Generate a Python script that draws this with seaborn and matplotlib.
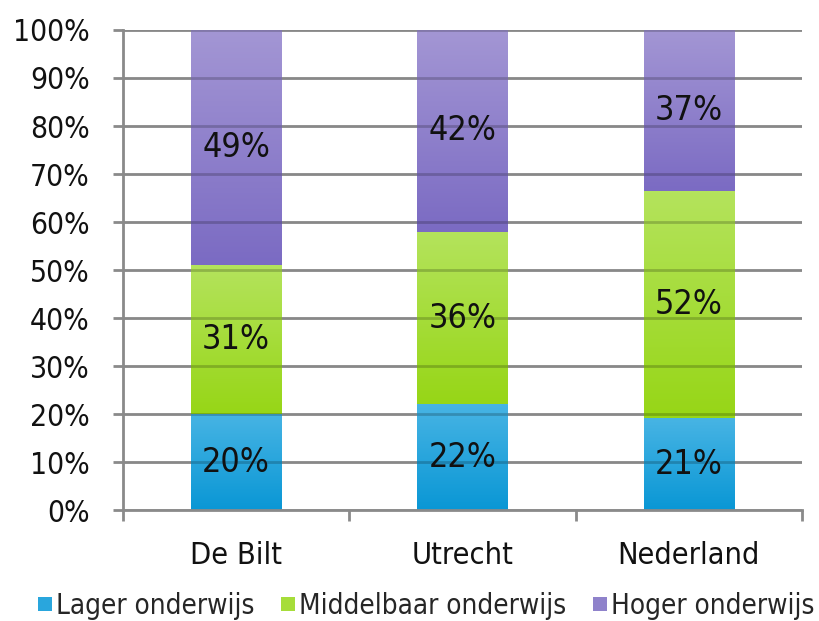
import numpy as np
import pandas as pd
import matplotlib
matplotlib.use("Agg")
import matplotlib.pyplot as plt
from matplotlib.lines import Line2D
from matplotlib import font_manager as fm
import seaborn as sns

# Opleidingsniveau per regio (percentages)
regios = ["De Bilt", "Utrecht", "Nederland"]
niveaus = ["Lager onderwijs", "Middelbaar onderwijs", "Hoger onderwijs"]
lager = [20, 22, 21]
middelbaar = [31, 36, 52]
hoger = [49, 42, 37]
y_ticks = [0, 10, 20, 30, 40, 50, 60, 70, 80, 90, 100]
y_labels = [f"{t}%" for t in y_ticks]

kleur_boven = ["#47b4e4", "#b4e35c", "#a396d4"]
kleur_onder = ["#0a97d5", "#97d617", "#7b6bc3"]
kleur_vlak = ["#29a6dd", "#a6dd3a", "#8f82cb"]

sns.set_theme(style="white")

# smal lettertype zoeken (condensed), anders gewone sans
smal_bestand = None
for f in fm.fontManager.ttflist:
    naam = f.name.lower()
    if ("narrow" in naam or "condensed" in naam or f.stretch in ("condensed", "semi-condensed")) \
            and f.style == "normal" and f.weight in (400, "normal", "regular"):
        smal_bestand = f.fname
        break


def lettertype(size):
    if smal_bestand:
        return fm.FontProperties(fname=smal_bestand, size=size)
    return fm.FontProperties(family=["Liberation Sans", "DejaVu Sans"], size=size * 0.9)


fig = plt.figure(figsize=(8.2, 6.21), dpi=100)
ax = fig.add_axes([0.15, 0.1787, 0.828, 0.773])

# gestapelde staven, per regio genormaliseerd op 100%
reeksen = [lager, middelbaar, hoger]
totaal = np.sum(reeksen, axis=0)
basis = np.zeros(len(regios))
lagen = []
for i, (niveau, waarden) in enumerate(zip(niveaus, reeksen)):
    aandeel = np.array(waarden) / totaal * 100
    df = pd.DataFrame({"Regio": regios, "Aandeel": aandeel})
    voor = len(ax.patches)
    sns.barplot(data=df, x="Regio", y="Aandeel", order=regios, color=kleur_vlak[i],
                saturation=1, width=0.4, errorbar=None, bottom=basis.copy(),
                linewidth=0, ax=ax, zorder=2)
    lagen.append((ax.patches[voor:], waarden))
    basis = basis + aandeel

# verlopende vulling per segment
for i, (patches, waarden) in enumerate(lagen):
    c0 = np.array(matplotlib.colors.to_rgb(kleur_onder[i]))
    c1 = np.array(matplotlib.colors.to_rgb(kleur_boven[i]))
    t = np.linspace(0, 1, 64)[:, None]
    grad = (c0 * (1 - t) + c1 * t)[:, None, :]
    for p, w in zip(patches, waarden):
        x0, y0, bw, bh = p.get_x(), p.get_y(), p.get_width(), p.get_height()
        im = ax.imshow(grad, extent=[x0, x0 + bw, y0, y0 + bh], origin="lower",
                       aspect="auto", zorder=2.1, interpolation="bilinear")
        im.set_clip_path(p)
        ax.text(x0 + bw / 2, y0 + bh / 2, f"{w}%", ha="center", va="center",
                fontproperties=lettertype(24.5), color="#111111", zorder=5)

ax.set_xlim(-0.5, 2.5)
ax.set_ylim(0, 100)
ax.set_yticks(y_ticks)
ax.set_yticklabels(y_labels, fontproperties=lettertype(21.5), color="#111111")
ax.set_xticks(range(len(regios)))
ax.set_xticklabels(regios, fontproperties=lettertype(22), color="#111111")
ax.set_xticks([-0.5, 0.5, 1.5, 2.5], minor=True)
ax.set_xlabel("")
ax.set_ylabel("")

# rasterlijnen: grijs achter de staven, lichte schaduw eroverheen
ax.set_axisbelow(True)
ax.yaxis.grid(True, color="#ababab", linewidth=2)
ax.xaxis.grid(False)
ax.hlines(y_ticks[1:], -0.5, 2.5, color="black", alpha=0.2, linewidth=2, zorder=3)

for s in ["top", "right"]:
    ax.spines[s].set_visible(False)
for s in ["left", "bottom"]:
    ax.spines[s].set_color("#8a8a8a")
    ax.spines[s].set_linewidth(2)
    ax.spines[s].set_zorder(4)
ax.tick_params(axis="y", which="major", direction="out", length=7, width=2,
               color="#8a8a8a", pad=17, left=True)
ax.tick_params(axis="x", which="major", length=0, pad=22)
ax.tick_params(axis="x", which="minor", direction="out", length=8, width=2,
               color="#8a8a8a", bottom=True)

handles = [Line2D([], [], marker="s", linestyle="none", markersize=10,
                  markerfacecolor=kleur_vlak[i], markeredgewidth=0) for i in range(3)]
fig.legend(handles, niveaus, loc="center", bbox_to_anchor=(0.518, 0.024),
           ncol=3, frameon=False, handletextpad=0.05, columnspacing=0.85,
           handlelength=0.7, borderpad=0, prop=lettertype(20))

fig.savefig("out.png", dpi=100)
